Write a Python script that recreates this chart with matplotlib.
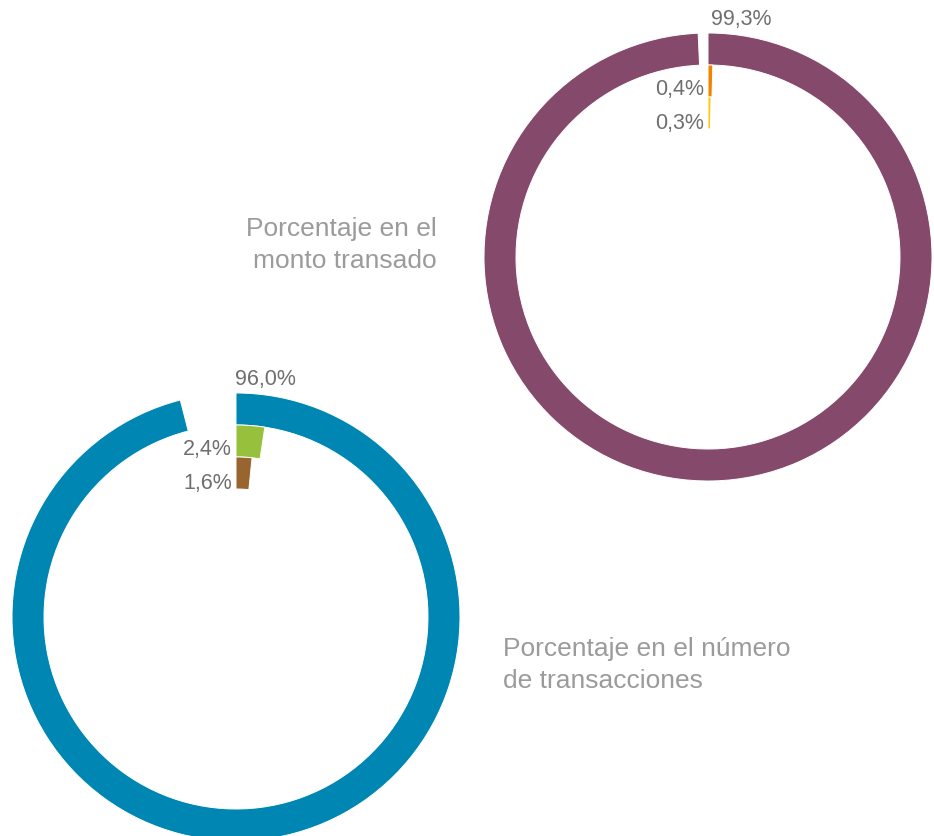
import matplotlib
matplotlib.use('Agg')
import matplotlib.pyplot as plt

plt.rcParams['font.family'] = ['Liberation Sans', 'DejaVu Sans']

# monto transado (top right)
monto_values = [99.3, 0.4, 0.3]
monto_labels = ['99,3%', '0,4%', '0,3%']
monto_colors = ['#85496B', '#F08300', '#FFC800']
monto_title = 'Porcentaje en el\nmonto transado'

# numero de transacciones (bottom left)
numero_values = [96.0, 2.4, 1.6]
numero_labels = ['96,0%', '2,4%', '1,6%']
numero_colors = ['#0086B3', '#97C13C', '#98642F']
numero_title = 'Porcentaje en el número\nde transacciones'

W, H = 934, 836
R = 224
RING = 32
LABEL_COLOR = '#6F6F6F'
TITLE_COLOR = '#9B9B9B'

fig = plt.figure(figsize=(W / 100, H / 100), dpi=100)
ax = fig.add_axes([0, 0, 1, 1])


def radial_rings(center, values, colors):
    for i, (v, c) in enumerate(zip(values, colors)):
        ax.pie([v, 100 - v], colors=[c, 'none'], startangle=90,
               counterclock=False, radius=R - i * RING, center=center,
               wedgeprops=dict(width=RING, edgecolor='white', linewidth=0.7))
        # hide the edge on the invisible part
        ax.patches[-1].set_edgecolor('none')


def ring_labels(center, labels, dx):
    cx, cy = center
    ax.text(cx + dx, cy + R + 14, labels[0], ha='left', va='center',
            fontsize=15.5, color=LABEL_COLOR)
    offsets = [56, 90]
    for lab, off in zip(labels[1:], offsets):
        ax.text(cx - 4, cy + R - off, lab, ha='right',
                va='center', fontsize=15.5, color=LABEL_COLOR)


top_center = (708, H - 257)
bottom_center = (236, H - 617)

radial_rings(top_center, monto_values, monto_colors)
radial_rings(bottom_center, numero_values, numero_colors)
ring_labels(top_center, monto_labels, 3)
ring_labels(bottom_center, numero_labels, -1)

ax.text(437, H - 245, monto_title, ha='right', va='center',
        multialignment='right', fontsize=19, color=TITLE_COLOR,
        linespacing=1.45)
ax.text(503, H - 665, numero_title, ha='left', va='center',
        multialignment='left', fontsize=19, color=TITLE_COLOR,
        linespacing=1.45)

ax.set_xlim(0, W)
ax.set_ylim(0, H)
ax.set_aspect('equal')
ax.axis('off')

fig.savefig('out.png', dpi=100, facecolor='white')
